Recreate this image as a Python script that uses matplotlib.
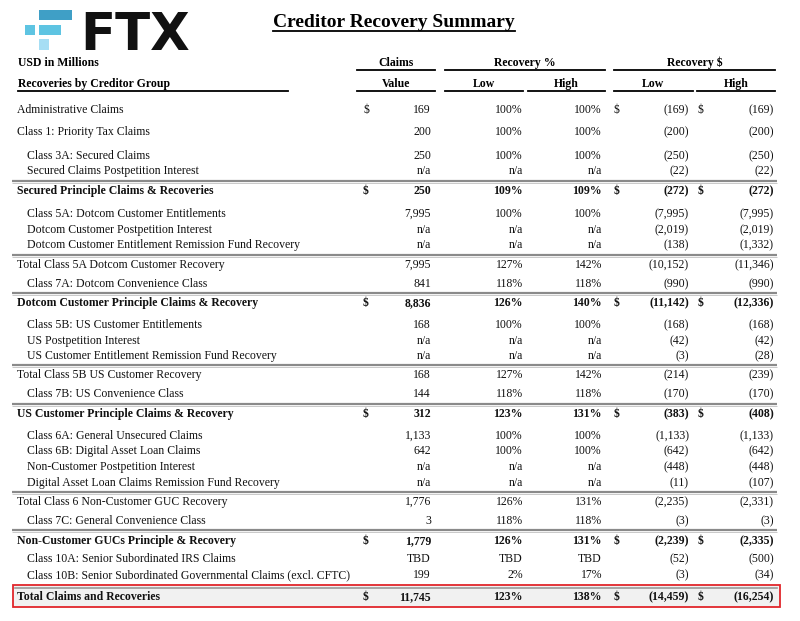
import matplotlib
matplotlib.use("Agg")
import matplotlib.pyplot as plt
from matplotlib.patches import Rectangle

# table contents (USD in millions)
labels = [
    "Administrative Claims",
    "Class 1: Priority Tax Claims",
    "Class 3A: Secured Claims",
    "Secured Claims Postpetition Interest",
    "Secured Principle Claims & Recoveries",
    "Class 5A: Dotcom Customer Entitlements",
    "Dotcom Customer Postpetition Interest",
    "Dotcom Customer Entitlement Remission Fund Recovery",
    "Total Class 5A Dotcom Customer Recovery",
    "Class 7A: Dotcom Convenience Class",
    "Dotcom Customer Principle Claims & Recovery",
    "Class 5B: US Customer Entitlements",
    "US Postpetition Interest",
    "US Customer Entitlement Remission Fund Recovery",
    "Total Class 5B US Customer Recovery",
    "Class 7B: US Convenience Class",
    "US Customer Principle Claims & Recovery",
    "Class 6A: General Unsecured Claims",
    "Class 6B: Digital Asset Loan Claims",
    "Non-Customer Postpetition Interest",
    "Digital Asset Loan Claims Remission Fund Recovery",
    "Total Class 6 Non-Customer GUC Recovery",
    "Class 7C: General Convenience Class",
    "Non-Customer GUCs Principle & Recovery",
    "Class 10A: Senior Subordinated IRS Claims",
    "Class 10B: Senior Subordinated Governmental Claims (excl. CFTC)",
    "Total Claims and Recoveries",
]
indented = [0, 0, 1, 1, 0, 1, 1, 1, 0, 1, 0, 1, 1, 1, 0, 1, 0, 1, 1, 1, 1, 0, 1, 0, 1, 1, 0]
bold_rows = [0, 0, 0, 0, 1, 0, 0, 0, 0, 0, 1, 0, 0, 0, 0, 0, 1, 0, 0, 0, 0, 0, 0, 1, 0, 0, 1]
dollar_rows = [1, 0, 0, 0, 1, 0, 0, 0, 0, 0, 1, 0, 0, 0, 0, 0, 1, 0, 0, 0, 0, 0, 0, 1, 0, 0, 1]

claims = [169, 200, 250, "n/a", 250, 7995, "n/a", "n/a", 7995, 841, 8836, 168, "n/a", "n/a",
          168, 144, 312, 1133, 642, "n/a", "n/a", 1776, 3, 1779, "TBD", 199, 11745]
low_pct = [100, 100, 100, "n/a", 109, 100, "n/a", "n/a", 127, 118, 126, 100, "n/a", "n/a",
           127, 118, 123, 100, 100, "n/a", "n/a", 126, 118, 126, "TBD", 2, 123]
high_pct = [100, 100, 100, "n/a", 109, 100, "n/a", "n/a", 142, 118, 140, 100, "n/a", "n/a",
            142, 118, 131, 100, 100, "n/a", "n/a", 131, 118, 131, "TBD", 17, 138]
low_usd = [-169, -200, -250, -22, -272, -7995, -2019, -138, -10152, -990, -11142, -168, -42, -3,
           -214, -170, -383, -1133, -642, -448, -11, -2235, -3, -2239, -52, -3, -14459]
high_usd = [-169, -200, -250, -22, -272, -7995, -2019, -1332, -11346, -990, -12336, -168, -42, -28,
            -239, -170, -408, -1133, -642, -448, -107, -2331, -3, -2335, -500, -34, -16254]

# layout (pixel coords, y downward; row_y = middle of the capitals)
row_y = [109, 131, 155, 170, 190, 213, 229, 244, 264, 283, 302, 324, 340, 355, 374, 393,
         413, 435, 450, 466, 482, 501, 520, 540, 558, 574, 596]
sep_y = [181, 255, 293, 365, 404, 492, 530]

SERIF = "Liberation Serif"
FS = 8.5
BASE = 4.0  # baseline offset below row centre


def fmt_num(v):
    return v if isinstance(v, str) else f"{v:,}"


def fmt_pct(v):
    return v if isinstance(v, str) else f"{v}%"


def fmt_usd(v):
    return f"({abs(v):,})" if v < 0 else f"{v:,}"


fig = plt.figure(figsize=(8.0, 6.21), dpi=100)
ax = fig.add_axes([0, 0, 1, 1])
ax.set_xlim(0, 800)
ax.set_ylim(621, 0)
ax.axis("off")

# FTX logo
ax.add_patch(Rectangle((39, 10), 33, 10, color="#3f9fc6", lw=0))
ax.add_patch(Rectangle((25, 25), 10, 10, color="#5ec4e2", lw=0))
ax.add_patch(Rectangle((39, 25), 22, 10, color="#5ec4e2", lw=0))
ax.add_patch(Rectangle((39, 39), 10, 11, color="#a6def4", lw=0))
ax.text(80, 50, "FTX", fontsize=37, fontweight="bold", family="DejaVu Sans",
        color="#111111", va="baseline", ha="left")

# title
ax.text(394, 27, "Creditor Recovery Summary", fontsize=14, fontweight="bold",
        family=SERIF, ha="center", va="baseline")
ax.plot([273, 515], [31, 31], color="black", lw=1.3)

# headers
hdr = dict(fontsize=FS, fontweight="bold", family=SERIF, va="baseline")
ax.text(18, 62 + BASE, "USD in Millions", ha="left", **hdr)
ax.text(18, 83 + BASE, "Recoveries by Creditor Group", ha="left", **hdr)
ax.text(396, 62 + BASE, "Claims", ha="center", **hdr)
ax.text(396, 83 + BASE, "Value", ha="center", **hdr)
ax.text(525, 62 + BASE, "Recovery %", ha="center", **hdr)
ax.text(484, 83 + BASE, "Low", ha="center", **hdr)
ax.text(566, 83 + BASE, "High", ha="center", **hdr)
ax.text(695, 62 + BASE, "Recovery $", ha="center", **hdr)
ax.text(653, 83 + BASE, "Low", ha="center", **hdr)
ax.text(736, 83 + BASE, "High", ha="center", **hdr)

for x0, x1 in [(357, 435), (445, 605), (614, 775)]:
    ax.plot([x0, x1], [70, 70], color="black", lw=1.3)
for x0, x1 in [(18, 288), (357, 435), (445, 523), (528, 605), (614, 693), (697, 775)]:
    ax.plot([x0, x1], [91, 91], color="black", lw=1.3)

# separators (double grey rules)
for y in sep_y:
    ax.plot([12, 777], [y, y], color="#8a8a8a", lw=1.6, solid_capstyle="butt")
    ax.plot([12, 777], [y + 2.2, y + 2.2], color="#c0c0c0", lw=0.6, solid_capstyle="butt")

# total row box
ty = row_y[-1]
ax.add_patch(Rectangle((13, ty - 11), 767, 22, facecolor="#f1f1f1",
                       edgecolor="#e1262b", lw=1.3, zorder=0))
ax.plot([15, 777], [ty - 8.5, ty - 8.5], color="#9a9a9a", lw=1.2, zorder=1)

# body rows
for i, lab in enumerate(labels):
    y = row_y[i] + BASE
    w = "bold" if bold_rows[i] else "normal"
    kw = dict(fontsize=FS, fontweight=w, family=SERIF, va="baseline", color="#111111")
    ax.text(27 if indented[i] else 17, y, lab, ha="left", **kw)
    ax.text(431, y, fmt_num(claims[i]), ha="right", **kw)
    ax.text(523, y, fmt_pct(low_pct[i]), ha="right", **kw)
    ax.text(602, y, fmt_pct(high_pct[i]), ha="right", **kw)
    ax.text(689, y, fmt_usd(low_usd[i]), ha="right", **kw)
    ax.text(774, y, fmt_usd(high_usd[i]), ha="right", **kw)
    if dollar_rows[i]:
        ax.text(363, y, "$", ha="left", **kw)
        ax.text(614, y, "$", ha="left", **kw)
        ax.text(698, y, "$", ha="left", **kw)

fig.savefig("out.png", dpi=100)
